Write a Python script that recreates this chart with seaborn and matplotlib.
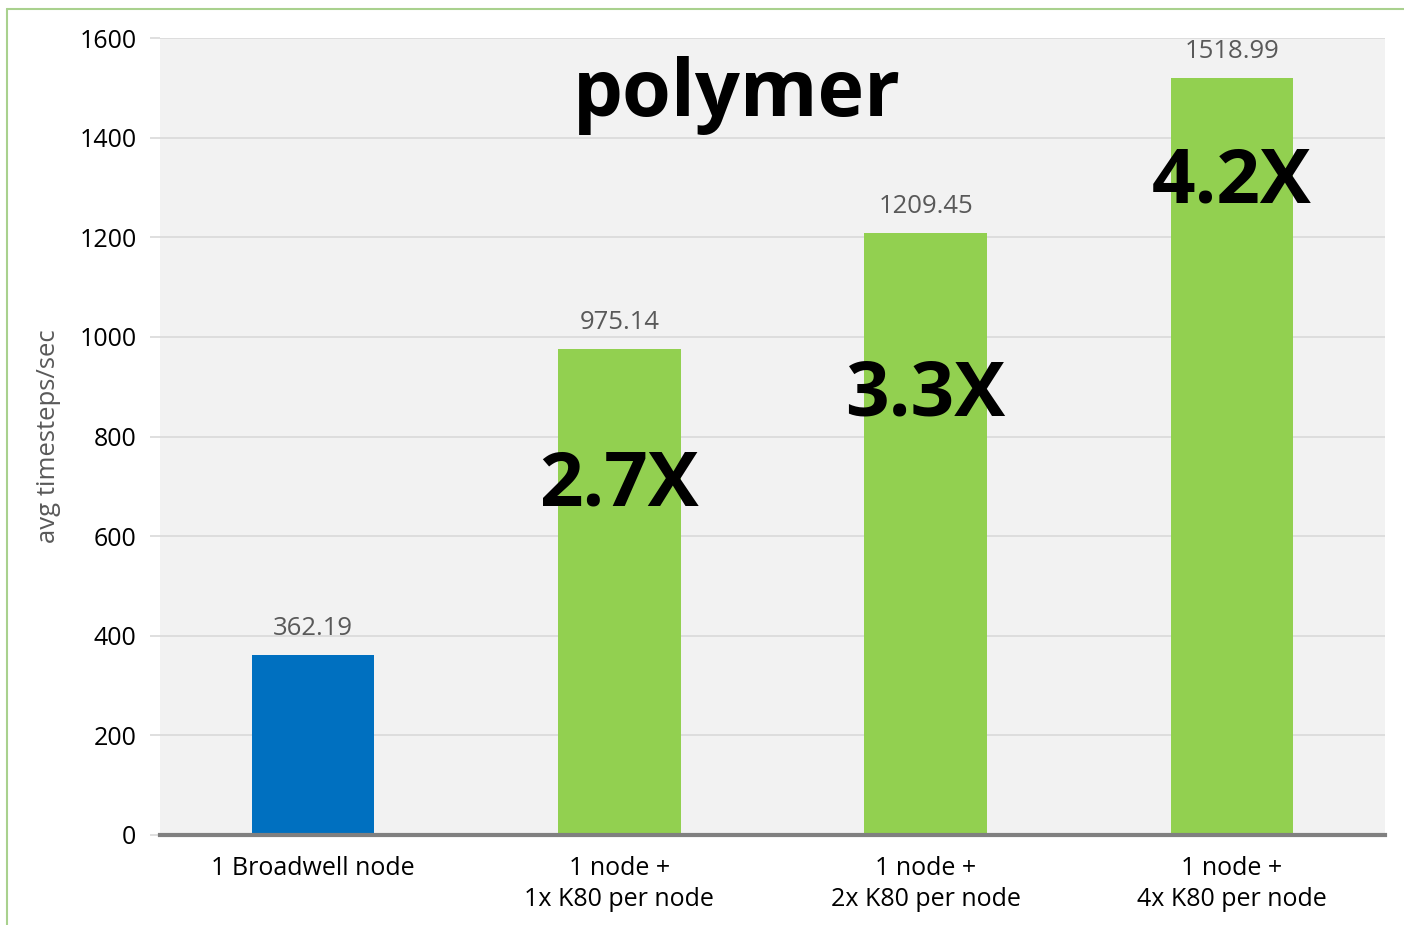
import matplotlib
matplotlib.use('Agg')
import matplotlib.pyplot as plt
from matplotlib.lines import Line2D
import seaborn as sns
import pandas as pd

# Datos del grafico
categories = ['1 Broadwell node',
              '1 node +\n1x K80 per node',
              '1 node +\n2x K80 per node',
              '1 node +\n4x K80 per node']
values = [362.19, 975.14, 1209.45, 1518.99]
speedups = ['', '2.7X', '3.3X', '4.2X']
value_labels = ['362.19', '975.14', '1209.45', '1518.99']
bar_colors = ['#0070C0', '#92D050', '#92D050', '#92D050']

df = pd.DataFrame({'config': categories, 'rate': values})

sns.set_theme(style='white')
plt.rcParams['font.family'] = ['Open Sans', 'DejaVu Sans']

fig = plt.figure(figsize=(14.04, 9.25), dpi=100)
ax = fig.add_axes([0.114, 0.0973, 0.8725, 0.8616])
ax.set_facecolor('#F2F2F2')

sns.barplot(data=df, x='config', y='rate', hue='config', palette=bar_colors,
            width=0.4, legend=False, saturation=1, linewidth=0, ax=ax, zorder=3)

ax.set_ylim(0, 1600)
ax.set_yticks(range(0, 1601, 200))
ax.grid(axis='y', color='#D9D9D9', linewidth=1.2, zorder=0)
ax.set_axisbelow(True)
for s in ['top', 'right', 'left']:
    ax.spines[s].set_visible(False)
ax.spines['bottom'].set_color('#808080')
ax.spines['bottom'].set_linewidth(3)
ax.spines['bottom'].set_zorder(4)

ax.tick_params(axis='y', length=7, color='#D9D9D9', width=1.2, pad=10,
               labelsize=18, labelcolor='black', left=True)
ax.tick_params(axis='x', length=0, pad=15, labelsize=18, labelcolor='black')
for lbl in ax.get_xticklabels():
    lbl.set_linespacing(1.35)
ax.set_xlabel('')
ax.set_ylabel('avg timesteps/sec', fontsize=18.5, color='#595959', labelpad=13)

# etiquetas de valor
for i, v in enumerate(values):
    ax.annotate(value_labels[i], (i, v), xytext=(0, 10), textcoords='offset points',
                ha='center', va='bottom', fontsize=18.5, color='#595959')

# factores de aceleracion
speedup_y = [0, 701, 881, 1309]
for i, s in enumerate(speedups):
    if s:
        ax.text(i, speedup_y[i], s, ha='center', va='center', fontsize=55,
                fontweight='bold', color='black', zorder=5)

# titulo dentro del area
ax.text(0.471, 0.928, 'polymer', transform=ax.transAxes, ha='center',
        va='center', fontsize=57, fontweight='bold', color='black')

# borde verde de la diapositiva
fig.add_artist(Line2D([0.005, 1.0], [0.990, 0.990], color='#A9D18E', linewidth=1.5))
fig.add_artist(Line2D([0.005, 0.005], [0.0, 0.990], color='#A9D18E', linewidth=1.5))

plt.savefig('out.png', dpi=100, facecolor='white')
